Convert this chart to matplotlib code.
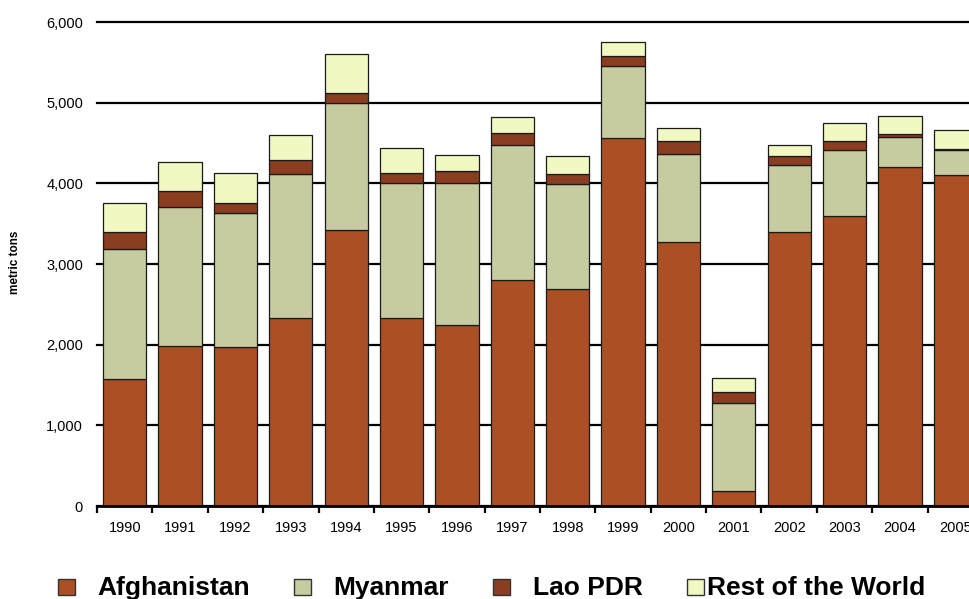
import matplotlib
matplotlib.use("Agg")
import matplotlib.pyplot as plt
from matplotlib.patches import Rectangle
import numpy as np

plt.rcParams['font.family'] = ['Liberation Sans', 'DejaVu Sans']

years = ["1990", "1991", "1992", "1993", "1994", "1995", "1996", "1997",
         "1998", "1999", "2000", "2001", "2002", "2003", "2004", "2005"]
afghanistan = [1570, 1980, 1970, 2330, 3416, 2335, 2248, 2804,
               2693, 4565, 3276, 185, 3400, 3600, 4200, 4100]
myanmar = [1621, 1728, 1660, 1791, 1583, 1664, 1760, 1676,
           1303, 895, 1087, 1097, 828, 810, 370, 312]
lao_pdr = [202, 196, 127, 169, 120, 128, 140, 147,
           124, 124, 167, 134, 112, 120, 43, 14]
rest_of_world = [360, 356, 371, 310, 490, 315, 200, 190,
                 215, 170, 150, 175, 140, 220, 220, 230]

series = [
    ("Afghanistan", afghanistan, "#AB5025"),
    ("Myanmar", myanmar, "#C7CCA0"),
    ("Lao PDR", lao_pdr, "#8B3D20"),
    ("Rest of the World", rest_of_world, "#F2F8C2"),
]

W, H = 970, 599
fig = plt.figure(figsize=(W / 100, H / 100), dpi=100)
ax = fig.add_axes([97 / W, 1 - 506 / H, 886 / W, 484 / H])

x = np.arange(len(years))
bottom = np.zeros(len(years))
for name, vals, color in series:
    vals = np.array(vals, dtype=float)
    ax.bar(x, vals, width=0.78, bottom=bottom, color=color,
           edgecolor="#1a1a1a", linewidth=0.9, zorder=3, label=name)
    bottom += vals

ax.set_xlim(-0.5, len(years) - 0.5)
ax.set_ylim(0, 6000)
ax.set_yticks(np.arange(0, 6001, 1000))
ax.set_yticklabels([f"{v:,}" for v in range(0, 6001, 1000)], fontsize=10.5)
ax.yaxis.grid(True, color="black", linewidth=1.6, zorder=0)
for gl in ax.get_ygridlines():
    gl.set_clip_on(False)
ax.set_axisbelow(True)

ax.set_xticks(x)
ax.set_xticklabels(years, fontsize=10.5)
ax.set_xticks(np.arange(-0.5, len(years), 1.0), minor=True)
ax.tick_params(axis="x", which="major", length=0, pad=11)
ax.tick_params(axis="x", which="minor", length=5, width=1.6, direction="out")
ax.tick_params(axis="y", length=0, pad=10)

for side in ("top", "right", "left"):
    ax.spines[side].set_visible(False)
ax.spines["bottom"].set_linewidth(2)
ax.spines["bottom"].set_zorder(4)

fig.text(15 / W, 1 - 262 / H, "metric tons", rotation=90, fontsize=8.5,
         fontweight="bold", ha="center", va="center")

# Legend row along the bottom edge
marker_x = [58, 294, 493, 687]
text_x = [97, 333, 533, 707]
for (name, _, color), mx, tx in zip(series, marker_x, text_x):
    fig.patches.append(Rectangle((mx / W, 1 - 595 / H), 17 / W, 16 / H,
                                 transform=fig.transFigure, facecolor=color,
                                 edgecolor="#333333", linewidth=1.0))
    fig.text(tx / W, 1 - 595 / H, name, fontsize=19, fontweight="bold",
             ha="left", va="baseline")

fig.savefig("out.png", dpi=100)
